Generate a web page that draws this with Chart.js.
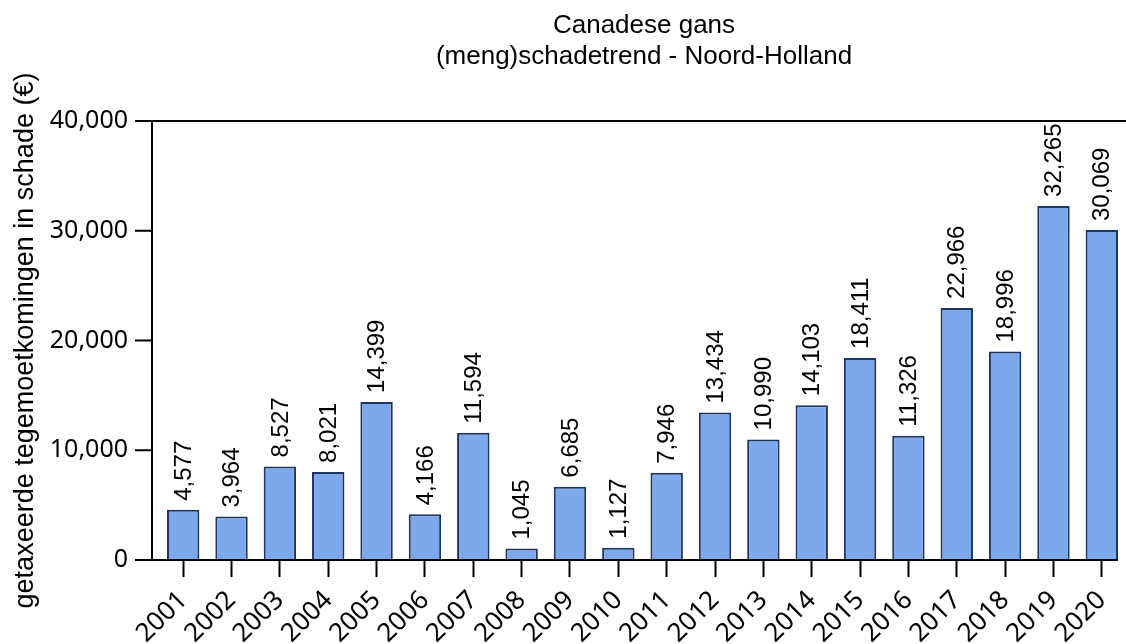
<!DOCTYPE html>
<html>
<head>
<meta charset="utf-8">
<script src="https://cdn.jsdelivr.net/npm/chart.js@4"></script>
<style>
  html, body { margin: 0; padding: 0; background: #fff; }
  #wrap { width: 1126px; height: 644px; }
</style>
</head>
<body>
<div id="wrap"><canvas id="appBarChart" width="1126" height="644"></canvas></div>
<script>
// 데이터
//--------------------------------------------------------//
const years = ['2001','2002','2003','2004','2005','2006','2007','2008','2009','2010',
               '2011','2012','2013','2014','2015','2016','2017','2018','2019','2020'];
const schade = [4577, 3964, 8527, 8021, 14399, 4166, 11594, 1045, 6685, 1127,
                7946, 13434, 10990, 14103, 18411, 11326, 22966, 18996, 32265, 30069];
const yTicks = [0, 10000, 20000, 30000, 40000];
const titleLines = ['Canadese gans', '(meng)schadetrend - Noord-Holland'];
const yTitle = 'getaxeerde tegemoetkomingen in schade (\u20AC)';

let fmt = function(v) { return Number(v).toLocaleString('en-US'); };

// 제목 + 축 테두리 그리기
let framePlugin = {
  id: 'frame',
  afterDraw: function(chart) {
    let ctx = chart.ctx, a = chart.chartArea;
    let ys = chart.scales.y;
    let axX = a.left - 7;
    ctx.save();
    ctx.strokeStyle = '#000';
    ctx.lineWidth = 2;
    ctx.beginPath();
    // 왼쪽 축
    ctx.moveTo(axX, a.top); ctx.lineTo(axX, a.bottom);
    // 위 / 아래 선
    ctx.moveTo(axX - 17, a.top); ctx.lineTo(chart.width, a.top);
    ctx.moveTo(axX - 17, a.bottom); ctx.lineTo(a.right - 8, a.bottom);
    // y 눈금
    yTicks.forEach(function(t) {
      let py = ys.getPixelForValue(t);
      ctx.moveTo(axX - 17, py); ctx.lineTo(axX, py);
    });
    ctx.stroke();

    // 제목
    ctx.fillStyle = '#000';
    ctx.font = '26px "Liberation Sans", Arial, sans-serif';
    ctx.textAlign = 'center';
    ctx.textBaseline = 'middle';
    let cx = (axX + a.right) / 2 + 5;
    ctx.fillText(titleLines[0], cx, 26);
    ctx.fillText(titleLines[1], cx, 57);
    ctx.restore();
  }
};

// 막대 위 값 표시
let valuePlugin = {
  id: 'values',
  afterDatasetsDraw: function(chart) {
    let ctx = chart.ctx;
    let meta = chart.getDatasetMeta(0);
    ctx.save();
    ctx.fillStyle = '#000';
    ctx.font = '24px "Liberation Sans", Arial, sans-serif';
    ctx.textAlign = 'left';
    ctx.textBaseline = 'middle';
    meta.data.forEach(function(bar, i) {
      ctx.save();
      ctx.translate(bar.x + 1, bar.y - 9);
      ctx.rotate(-Math.PI / 2);
      ctx.fillText(fmt(schade[i]), 0, 0);
      ctx.restore();
    });
    ctx.restore();
  }
};

new Chart(document.getElementById('appBarChart'), {
  type: 'bar',
  data: {
    labels: years,
    datasets: [{
      data: schade,
      backgroundColor: '#7ea8ec',
      borderColor: '#1b3460',
      borderWidth: 2,
      borderSkipped: 'bottom',
      barPercentage: 0.67,
      categoryPercentage: 1
    }]
  },
  options: {
    responsive: false,
    animation: false,
    devicePixelRatio: 1,
    layout: { padding: { top: 121, right: 0, left: 0, bottom: 0 } },
    plugins: {
      legend: { display: false },
      title: { display: false },
      tooltip: { enabled: false }
    },
    scales: {
      x: {
        grid: {
          display: true,
          drawOnChartArea: false,
          drawTicks: true,
          tickLength: 17,
          tickWidth: 2,
          tickColor: '#000',
          offset: false
        },
        border: { display: false },
        ticks: {
          color: '#000',
          font: { family: '"Noto Sans", sans-serif', size: 26 },
          minRotation: 45,
          maxRotation: 45,
          padding: 8,
          autoSkip: false
        },
        afterFit: function(s) {
          s.height = 84;
          s.paddingLeft = 0;
          s.paddingRight = 0;
        }
      },
      y: {
        min: 0,
        max: 40000,
        grid: { display: false, drawTicks: false },
        border: { display: false },
        ticks: {
          stepSize: 10000,
          color: '#000',
          padding: 31,
          font: { family: '"Noto Sans", sans-serif', size: 25 },
          callback: function(v) { return fmt(v); }
        },
        title: {
          display: true,
          text: yTitle,
          color: '#000',
          font: { family: '"Liberation Sans", Arial, sans-serif', size: 27 },
          padding: { top: 9, bottom: 0 }
        },
        afterFit: function(s) { s.width = 159; }
      }
    }
  },
  plugins: [framePlugin, valuePlugin]
});
</script>
</body>
</html>
